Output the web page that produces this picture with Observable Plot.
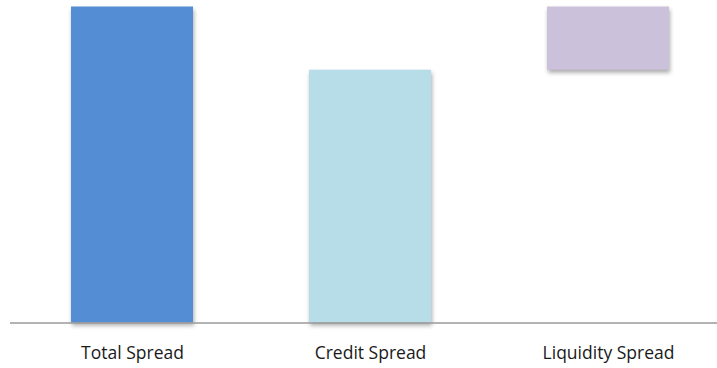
<!DOCTYPE html>
<html>
<head>
<meta charset="utf-8">
<script src="https://cdn.jsdelivr.net/npm/d3@7"></script>
<script src="https://cdn.jsdelivr.net/npm/@observablehq/plot@0.6"></script>
<style>
  html, body { margin: 0; padding: 0; background: #fff; }
  #chart svg { display: block; }
  g[aria-label="bar"] rect { filter: drop-shadow(1px 3px 2px rgba(0,0,0,0.33)); }
</style>
</head>
<body>
<div id="chart"></div>
<script>
const categories = ["Total Spread", "Credit Spread", "Liquidity Spread"];
const lows = [0, 0, 80];
const highs = [100, 80, 100];
const colors = ["#548dd4", "#b7dde8", "#ccc1da"];

const data = categories.map((c, i) => ({cat: c, y1: lows[i], y2: highs[i], color: colors[i]}));

const chart = Plot.plot({
  width: 717,
  height: 368,
  marginLeft: 10,
  marginRight: 0,
  marginTop: 6,
  marginBottom: 45,
  style: {fontFamily: "'Open Sans', sans-serif", fontSize: "17.5px", color: "#1a1a1a", background: "#fff"},
  x: {domain: categories, range: [13, 727], paddingInner: 0.487, paddingOuter: 0.2435, label: null},
  y: {domain: [0, 100], range: [322.5, 6.5], axis: null},
  marks: [
    Plot.barY(data, {x: "cat", y1: "y1", y2: "y2", fill: "color"}),
    Plot.ruleY([0], {stroke: "#9a9a9a", strokeWidth: 1.6}),
    Plot.axisX({tickSize: 0, tickPadding: 23, fontSize: 17.5, label: null})
  ]
});
document.getElementById("chart").appendChild(chart);
</script>
</body>
</html>
